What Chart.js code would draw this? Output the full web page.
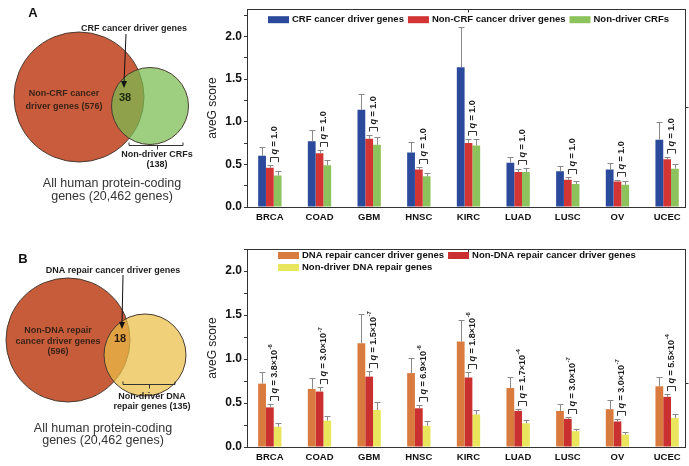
<!DOCTYPE html>
<html>
<head>
<meta charset="utf-8">
<script src="https://cdn.jsdelivr.net/npm/chart.js@4.4.1/dist/chart.umd.min.js"></script>
<style>
  body { margin: 0; background: #fff; width: 689px; height: 466px; position: relative; overflow: hidden; }
  canvas { position: absolute; }
  #vennA { left: 0; top: 0; }
  #barA { left: 195px; top: 0; }
  #vennB { left: 0; top: 230px; }
  #barB { left: 195px; top: 236px; }
</style>
</head>
<body>
<canvas id="vennA" width="200" height="230"></canvas>
<canvas id="barA" width="494" height="230"></canvas>
<canvas id="vennB" width="200" height="236"></canvas>
<canvas id="barB" width="494" height="230"></canvas>
<script>
const FONT = '"Liberation Sans", Arial, sans-serif';

const cancers = ['BRCA', 'COAD', 'GBM', 'HNSC', 'KIRC', 'LUAD', 'LUSC', 'OV', 'UCEC'];

// Panel A — CRF sets (mean aveG and top of error bar)
const crfDriver       = [0.60, 0.77, 1.14, 0.64, 1.64, 0.52, 0.42, 0.44, 0.79];
const crfDriverErr    = [0.70, 0.90, 1.32, 0.76, 2.11, 0.59, 0.48, 0.52, 1.00];
const nonCrfDriver    = [0.46, 0.63, 0.80, 0.44, 0.75, 0.41, 0.32, 0.30, 0.56];
const nonCrfDriverErr = [0.49, 0.67, 0.85, 0.47, 0.80, 0.44, 0.35, 0.32, 0.59];
const nonDriverCrf    = [0.37, 0.49, 0.73, 0.36, 0.72, 0.41, 0.27, 0.26, 0.45];
const nonDriverCrfErr = [0.42, 0.55, 0.82, 0.40, 0.80, 0.46, 0.31, 0.30, 0.50];
const qCrf = ['1.0', '1.0', '1.0', '1.0', '1.0', '1.0', '1.0', '1.0', '1.0'];

// Panel B — DNA repair sets
const dnaDriver       = [0.72, 0.66, 1.18, 0.84, 1.20, 0.67, 0.41, 0.43, 0.69];
const dnaDriverErr    = [0.85, 0.78, 1.51, 1.01, 1.44, 0.80, 0.49, 0.53, 0.80];
const nonDnaDriver    = [0.45, 0.63, 0.80, 0.44, 0.79, 0.41, 0.32, 0.29, 0.57];
const nonDnaDriverErr = [0.49, 0.68, 0.86, 0.48, 0.85, 0.43, 0.34, 0.32, 0.60];
const nonDriverDna    = [0.23, 0.30, 0.42, 0.24, 0.37, 0.27, 0.18, 0.14, 0.33];
const nonDriverDnaErr = [0.27, 0.35, 0.51, 0.29, 0.42, 0.31, 0.20, 0.17, 0.38];
const qDnaMant = ['3.8', '3.0', '1.5', '6.9', '1.8', '1.7', '3.0', '3.0', '5.5'];
const qDnaExp  = ['-6', '-7', '-7', '-6', '-6', '-4', '-7', '-7', '-4'];

// Venn set sizes
const vennACounts = { left: 576, both: 38, right: 138 };
const vennBCounts = { left: 596, both: 18, right: 135 };
const totalGenes = '20,462';

// ---- plugins ----

function errorBars(errs) {
  return {
    id: 'errorBars',
    afterDatasetsDraw(chart) {
      const { ctx } = chart;
      const y = chart.scales.y;
      ctx.save();
      ctx.strokeStyle = '#8a8a8a';
      ctx.lineWidth = 1;
      errs.forEach((err, i) => {
        chart.getDatasetMeta(i).data.forEach((bar, j) => {
          const x = Math.round(bar.x) + 0.5;
          const yTop = Math.round(y.getPixelForValue(err[j])) + 0.5;
          ctx.beginPath();
          ctx.moveTo(x, bar.y);
          ctx.lineTo(x, yTop);
          ctx.moveTo(x - 3, yTop);
          ctx.lineTo(x + 3, yTop);
          ctx.stroke();
        });
      });
      ctx.restore();
    }
  };
}

// bracket between dataset 1 and 2 plus a rotated q-value
function qLabels(errA, errB, mant, exps) {
  return {
    id: 'qLabels',
    afterDatasetsDraw(chart) {
      const { ctx } = chart;
      const y = chart.scales.y;
      const m1 = chart.getDatasetMeta(1).data;
      const m2 = chart.getDatasetMeta(2).data;
      ctx.save();
      ctx.strokeStyle = '#333';
      ctx.fillStyle = '#1a1a1a';
      ctx.lineWidth = 1;
      mant.forEach((m, j) => {
        const x1 = Math.round(m1[j].x) + 0.5;
        const x2 = Math.round(m2[j].x) + 0.5;
        const yb = Math.min(y.getPixelForValue(errA[j]), y.getPixelForValue(errB[j])) - 3;
        const yt = Math.round(yb - 5) + 0.5;
        ctx.beginPath();
        ctx.moveTo(x1, yb);
        ctx.lineTo(x1, yt);
        ctx.lineTo(x2, yt);
        ctx.lineTo(x2, yb);
        ctx.stroke();

        ctx.save();
        ctx.translate((x1 + x2) / 2, yt - 3);
        ctx.rotate(-Math.PI / 2);
        ctx.textBaseline = 'middle';
        ctx.textAlign = 'left';
        let cx = 0;
        ctx.font = 'italic bold 9px ' + FONT;
        ctx.fillText('q', cx, 0);
        cx += ctx.measureText('q').width;
        ctx.font = 'bold 9px ' + FONT;
        const body = ' = ' + m + (exps ? '\u00d710' : '');
        ctx.fillText(body, cx, 0);
        cx += ctx.measureText(body).width;
        if (exps) {
          ctx.font = 'bold 6px ' + FONT;
          ctx.fillText(exps[j], cx + 0.5, -4);
        }
        ctx.restore();
      });
      ctx.restore();
    }
  };
}

function insideLegend(rows, dx, dy) {
  return {
    id: 'insideLegend',
    afterDraw(chart) {
      const { ctx, chartArea } = chart;
      ctx.save();
      ctx.font = 'bold 9.5px ' + FONT;
      ctx.textBaseline = 'middle';
      rows.forEach((row, r) => {
        let x = chartArea.left + dx;
        const yy = chartArea.top + dy + r * 12;
        row.forEach(i => {
          const ds = chart.data.datasets[i];
          ctx.fillStyle = ds.backgroundColor;
          ctx.fillRect(x, yy - 3.5, 21, 7);
          ctx.fillStyle = '#111';
          ctx.fillText(ds.label, x + 24, yy);
          x += 24 + ctx.measureText(ds.label).width + 4;
        });
      });
      ctx.restore();
    }
  };
}

function frame(topTick, rightTick) {
  return {
    id: 'frame',
    afterDraw(chart) {
      const { ctx, chartArea: a, scales } = chart;
      ctx.save();
      ctx.strokeStyle = '#333';
      ctx.lineWidth = 1;
      const l = Math.round(a.left) + 0.5, t = Math.round(a.top) + 0.5;
      const r = Math.round(a.right) + 0.5, b = Math.round(a.bottom) + 0.5;
      ctx.strokeRect(l, t, r - l, b - t);
      const tx = Math.round(scales.x.getPixelForValue(topTick)) + 0.5;
      const ry = Math.round(scales.y.getPixelForValue(rightTick)) + 0.5;
      ctx.beginPath();
      ctx.moveTo(tx, t);
      ctx.lineTo(tx, t + 3);
      ctx.moveTo(r, ry);
      ctx.lineTo(r + 3, ry);
      ctx.stroke();
      ctx.restore();
    }
  };
}

function barChart(id, cfg) {
  const datasets = cfg.series.map((s, i) => ({
    label: s.label,
    data: s.values.map((v, j) => ({ x: j, y: v })),
    backgroundColor: s.color,
    borderWidth: 0,
  }));
  return new Chart(document.getElementById(id), {
    type: 'bar',
    data: { datasets },
    options: {
      responsive: false,
      animation: false,
      events: [],
      layout: { padding: { top: cfg.padTop, right: 4, left: 0, bottom: 0 } },
      datasets: { bar: { barPercentage: 1, categoryPercentage: 0.47 } },
      plugins: { legend: { display: false }, tooltip: { enabled: false } },
      scales: {
        x: {
          type: 'linear',
          offset: false,
          min: -0.46,
          max: 8.36,
          grid: { display: false, drawTicks: false },
          border: { display: false },
          afterBuildTicks: s => { s.ticks = cancers.map((c, i) => ({ value: i })); },
          afterFit: s => { s.height = cfg.xHeight; },
          ticks: {
            autoSkip: false, maxRotation: 0, padding: 5, color: '#111',
            font: { family: FONT, size: 9.5, weight: 'bold' },
            callback: v => cancers[v],
          },
        },
        y: {
          min: 0,
          max: cfg.yMax,
          afterFit: s => { s.width = 52; },
          grid: { drawOnChartArea: false, tickLength: 3, color: '#333' },
          border: { display: false },
          ticks: {
            stepSize: 0.25, includeBounds: false, padding: 2, color: '#111',
            font: { family: FONT, size: 12, weight: 'bold' },
            callback: v => (Math.round(v * 100) % 50 === 0 ? v.toFixed(1) : ''),
          },
          title: {
            display: true, text: 'aveG score', color: '#222',
            font: { family: FONT, size: 12 }, padding: { top: 10, bottom: 0 },
          },
        },
      },
    },
    plugins: cfg.plugins,
  });
}

barChart('barA', {
  padTop: 3, xHeight: 23, yMax: 2.32,
  series: [
    { label: 'CRF cancer driver genes', values: crfDriver, color: '#2b4a9b' },
    { label: 'Non-CRF cancer driver genes', values: nonCrfDriver, color: '#d33434' },
    { label: 'Non-driver CRFs', values: nonDriverCrf, color: '#8dc35c' },
  ],
  plugins: [
    errorBars([crfDriverErr, nonCrfDriverErr, nonDriverCrfErr]),
    qLabels(nonCrfDriverErr, nonDriverCrfErr, qCrf, null),
    insideLegend([[0, 1, 2]], 21, 10.5),
    frame(4, 1.17),
  ],
});

barChart('barB', {
  padTop: 13, xHeight: 19, yMax: 2.25,
  series: [
    { label: 'DNA repair cancer driver genes', values: dnaDriver, color: '#d97a3e' },
    { label: 'Non-DNA repair cancer driver genes', values: nonDnaDriver, color: '#c9302f' },
    { label: 'Non-driver DNA repair genes', values: nonDriverDna, color: '#e9e65e' },
  ],
  plugins: [
    errorBars([dnaDriverErr, nonDnaDriverErr, nonDriverDnaErr]),
    qLabels(nonDnaDriverErr, nonDriverDnaErr, qDnaMant, qDnaExp),
    insideLegend([[0, 1], [2]], 31, 6.5),
    frame(4, 0.73),
  ],
});

// ---- Venn diagrams (bubble charts in a pixel-like coordinate frame) ----

function vennNotes(notes) {
  return {
    id: 'vennNotes',
    afterDatasetsDraw(chart) {
      const { ctx } = chart;
      const px = v => chart.scales.x.getPixelForValue(v);
      const py = v => chart.scales.y.getPixelForValue(v);
      ctx.save();
      ctx.textAlign = 'center';
      ctx.textBaseline = 'middle';
      notes.texts.forEach(t => {
        ctx.font = t.font + ' ' + FONT;
        ctx.fillStyle = t.color || '#1e1e1e';
        ctx.fillText(t.text, px(t.x), py(t.y));
      });
      // arrow
      const a = notes.arrow;
      ctx.strokeStyle = '#111';
      ctx.fillStyle = '#111';
      ctx.lineWidth = 1;
      ctx.beginPath();
      ctx.moveTo(px(a.x0), py(a.y0));
      ctx.lineTo(px(a.x1), py(a.y1) - 5);
      ctx.stroke();
      ctx.beginPath();
      ctx.moveTo(px(a.x1), py(a.y1));
      ctx.lineTo(px(a.x1) - 3, py(a.y1) - 7);
      ctx.lineTo(px(a.x1) + 3, py(a.y1) - 7);
      ctx.closePath();
      ctx.fill();
      // bracket under the right-hand set
      const b = notes.bracket;
      const by = Math.round(py(b.y)) + 0.5;
      ctx.strokeStyle = '#333';
      ctx.beginPath();
      ctx.moveTo(px(b.x0), by - 3);
      ctx.lineTo(px(b.x0), by);
      ctx.lineTo(px(b.x1), by);
      ctx.lineTo(px(b.x1), by - 3);
      ctx.moveTo(Math.round(px(b.xm)) + 0.5, by);
      ctx.lineTo(Math.round(px(b.xm)) + 0.5, by + 4);
      ctx.stroke();
      ctx.restore();
    }
  };
}

function vennChart(id, h, circles, notes) {
  return new Chart(document.getElementById(id), {
    type: 'bubble',
    data: {
      // later circles sit on top (lower order draws last)
      datasets: circles.map((c, i) => ({
        data: [{ x: c.x, y: c.y, r: c.r }],
        backgroundColor: c.fill,
        borderColor: '#4a3a30',
        borderWidth: 1,
        clip: false,
        order: circles.length - i,
      })),
    },
    options: {
      responsive: false,
      animation: false,
      events: [],
      layout: { padding: 0, autoPadding: false },
      plugins: { legend: { display: false }, tooltip: { enabled: false } },
      scales: {
        x: { type: 'linear', min: 0, max: 200, display: false },
        y: { type: 'linear', min: 0, max: h, reverse: true, display: false },
      },
    },
    plugins: [vennNotes(notes)],
  });
}

vennChart('vennA', 230, [
  { x: 79, y: 97, r: 65, fill: '#c95c3c' },
  { x: 150, y: 106, r: 38.5, fill: 'rgba(120,188,80,0.72)' },
], {
  texts: [
    { text: 'A', x: 33, y: 13, font: 'bold 13px', color: '#111' },
    { text: 'CRF cancer driver genes', x: 134, y: 29, font: 'bold 9px' },
    { text: String(vennACounts.both), x: 125, y: 98, font: 'bold 11px', color: '#1d2a10' },
    { text: 'Non-CRF cancer', x: 64, y: 94, font: 'bold 9px', color: '#3a2418' },
    { text: 'driver genes (' + vennACounts.left + ')', x: 64, y: 107, font: 'bold 9px', color: '#3a2418' },
    { text: 'Non-driver CRFs', x: 157, y: 155, font: 'bold 9px' },
    { text: '(' + vennACounts.right + ')', x: 157, y: 165, font: 'bold 9px' },
    { text: 'All human protein-coding', x: 112, y: 184, font: '12.5px', color: '#333' },
    { text: 'genes (' + totalGenes + ' genes)', x: 112, y: 197, font: '12.5px', color: '#333' },
  ],
  arrow: { x0: 126, y0: 34, x1: 124, y1: 88 },
  bracket: { x0: 129, x1: 183, xm: 157, y: 145 },
});

vennChart('vennB', 236, [
  { x: 68, y: 110, r: 62, fill: '#c75c3b' },
  { x: 145, y: 125, r: 41, fill: 'rgba(236,190,70,0.72)' },
], {
  texts: [
    { text: 'B', x: 23, y: 29, font: 'bold 13px', color: '#111' },
    { text: 'DNA repair cancer driver genes', x: 113, y: 41, font: 'bold 9px' },
    { text: String(vennBCounts.both), x: 120, y: 109, font: 'bold 11px', color: '#2a1a0a' },
    { text: 'Non-DNA repair', x: 58, y: 101, font: 'bold 9px', color: '#3a2418' },
    { text: 'cancer driver genes', x: 58, y: 112, font: 'bold 9px', color: '#3a2418' },
    { text: '(' + vennBCounts.left + ')', x: 58, y: 122, font: 'bold 9px', color: '#3a2418' },
    { text: 'Non-driver DNA', x: 152, y: 167, font: 'bold 9px' },
    { text: 'repair genes (' + vennBCounts.right + ')', x: 152, y: 177, font: 'bold 9px' },
    { text: 'All human protein-coding', x: 103, y: 199, font: '12.5px', color: '#333' },
    { text: 'genes (' + totalGenes + ' genes)', x: 103, y: 211, font: '12.5px', color: '#333' },
  ],
  arrow: { x0: 123, y0: 45, x1: 122, y1: 99 },
  bracket: { x0: 123, x1: 175, xm: 149, y: 154 },
});
</script>
</body>
</html>
